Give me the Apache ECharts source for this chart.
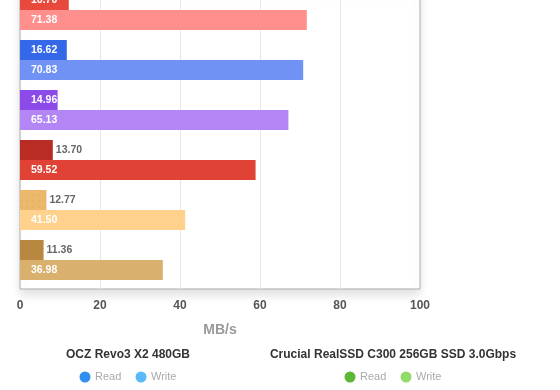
<!DOCTYPE html>
<html><head><meta charset="utf-8">
<script src="https://cdn.jsdelivr.net/npm/echarts@6/dist/echarts.min.js"></script>
<style>html,body{margin:0;padding:0;background:#fff}#c{width:560px;height:390px}</style>
</head><body><div id="c"></div>
<script>
// Data (top to bottom)
const categories = ['Drive 1', 'Drive 2', 'Drive 3', 'Drive 4', 'Drive 5', 'Drive 6'];
const readValues = [12.2, 11.7, 9.4, 8.2, 6.6, 5.9];
const readLabels = ['16.70', '16.62', '14.96', '13.70', '12.77', '11.36'];
const writeValues = [71.7, 70.8, 67.1, 58.9, 41.3, 35.7];
const writeLabels = ['71.38', '70.83', '65.13', '59.52', '41.50', '36.98'];
const readColors = ['#e8493d', '#3468e8', '#8c4be8', '#b82c24', '#ecb96c', '#b98840'];
const writeColors = ['#ff8f8c', '#6f92f4', '#b485f5', '#e04336', '#fed18d', '#d9b06d'];
const xTicks = [0, 20, 40, 60, 80, 100];
const axisName = 'MB/s';
const legendGroups = [
  { title: 'OCZ Revo3 X2 480GB', items: [['Read', '#2f8ff0'], ['Write', '#5bbaf5']] },
  { title: 'Crucial RealSSD C300 256GB SSD 3.0Gbps', items: [['Read', '#5cb832'], ['Write', '#90db6a']] }
];

const chart = echarts.init(document.getElementById('c'), null, { renderer: 'canvas' });
const FONT = 'Liberation Sans, Helvetica, Arial, sans-serif';

const readData = readValues.map((v, i) => {
  const inside = v >= 9;
  return {
    value: v,
    itemStyle: Object.assign({ color: readColors[i] }, i === 4 ? {
      decal: { symbol: 'circle', symbolSize: 0.25, color: 'rgba(190,130,60,0.22)', dashArrayX: [6, 0], dashArrayY: [6, 0] }
    } : {}),
    label: inside
      ? { position: 'insideLeft', distance: 11, color: '#fff' }
      : { position: 'right', distance: 3, color: '#666' }
  };
});
const writeData = writeValues.map((v, i) => ({ value: v, itemStyle: { color: writeColors[i] } }));

const graphics = [];
const titleCenters = [128, 393];
legendGroups.forEach((g, gi) => {
  const cx = titleCenters[gi];
  graphics.push({ type: 'text', style: { text: g.title, x: cx, y: 355, align: 'center', verticalAlign: 'middle', font: 'bold 12px ' + FONT, fill: '#333' } });
  const startX = cx - 43;
  g.items.forEach((it, ii) => {
    const x = startX + ii * 56;
    graphics.push({ type: 'circle', shape: { cx: x, cy: 377, r: 5.5 }, style: { fill: it[1] } });
    graphics.push({ type: 'text', style: { text: it[0], x: x + 10, y: 377, verticalAlign: 'middle', font: '11px ' + FONT, fill: '#aaa' } });
  });
});

chart.setOption({
  animation: false,
  textStyle: { fontFamily: FONT },
  grid: {
    left: 20, width: 400, top: -11, height: 300,
    outerBoundsMode: 'none', containLabel: false,
    show: true, borderColor: '#aaa', borderWidth: 1, backgroundColor: '#fff',
    shadowColor: 'rgba(0,0,0,0.12)', shadowBlur: 10, shadowOffsetY: 6
  },
  xAxis: {
    type: 'value', min: xTicks[0], max: xTicks[xTicks.length - 1], interval: xTicks[1] - xTicks[0],
    axisLine: { show: false }, axisTick: { show: false },
    axisLabel: { color: '#555', fontWeight: 'bold', fontSize: 12, margin: 11 },
    splitLine: { show: true, showMinLine: false, showMaxLine: false, lineStyle: { color: '#e6e6e6' } },
    name: axisName, nameLocation: 'middle', nameGap: 34,
    nameTextStyle: { color: '#999', fontWeight: 'bold', fontSize: 14 }
  },
  yAxis: {
    type: 'category', data: categories, inverse: true,
    axisLine: { show: false }, axisTick: { show: false }, axisLabel: { show: false }, splitLine: { show: false }
  },
  series: [
    {
      name: 'Read', type: 'bar', data: readData, barWidth: 20, barGap: 0,
      label: { show: true, fontWeight: 'bold', fontSize: 10.5, formatter: p => readLabels[p.dataIndex] }
    },
    {
      name: 'Write', type: 'bar', data: writeData, barWidth: 20, barGap: 0,
      label: { show: true, position: 'insideLeft', distance: 11, color: '#fff', fontWeight: 'bold', fontSize: 10.5, formatter: p => writeLabels[p.dataIndex] }
    },
    {
      name: 'spacer', type: 'bar', data: categories.map(() => 0), barWidth: 8, barGap: 0,
      itemStyle: { color: 'rgba(0,0,0,0)' }, silent: true
    }
  ],
  graphic: graphics
});
</script></body></html>
